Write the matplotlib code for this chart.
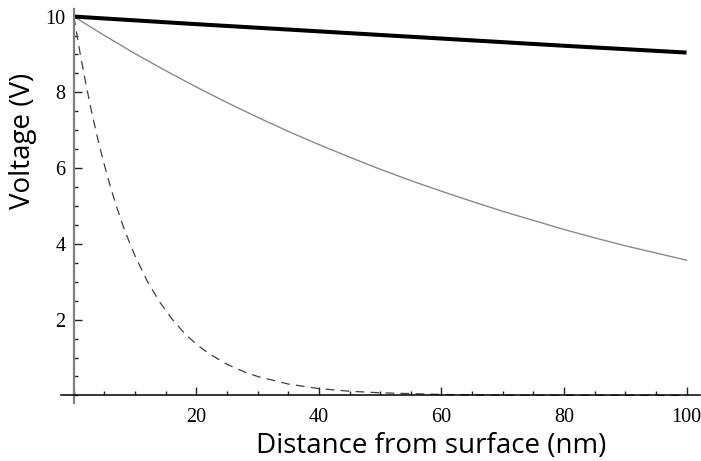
import matplotlib
matplotlib.use("Agg")
import matplotlib.pyplot as plt
from matplotlib.ticker import MultipleLocator, FixedLocator

# Thick black curve (long decay length)
x_thick = [0, 20, 40, 60, 80, 100]
v_thick = [10.0, 9.80, 9.61, 9.42, 9.23, 9.05]

# Thin grey curve
x_grey = [0, 5, 10, 15, 20, 25, 30, 35, 40, 45, 50, 55, 60, 65, 70, 75, 80, 85, 90, 95, 100]
v_grey = [10.0, 9.50, 9.02, 8.57, 8.14, 7.73, 7.34, 6.97, 6.62, 6.29, 5.97, 5.67,
          5.39, 5.12, 4.86, 4.62, 4.38, 4.16, 3.95, 3.76, 3.57]

# Dashed curve (short decay length)
x_dash = [0, 1, 2, 3, 4, 5, 6, 7, 8, 9, 10, 12, 14, 16, 18, 20, 22, 25, 28, 30, 35,
          40, 45, 50, 60, 70, 80, 90, 100]
v_dash = [10.0, 9.05, 8.19, 7.41, 6.70, 6.07, 5.49, 4.97, 4.49, 4.07, 3.68, 3.01,
          2.47, 2.02, 1.65, 1.35, 1.11, 0.82, 0.61, 0.50, 0.30, 0.18, 0.11, 0.07,
          0.025, 0.009, 0.003, 0.001, 0.0005]

x_major = [20, 40, 60, 80, 100]
y_major = [2, 4, 6, 8, 10]

fig = plt.figure(figsize=(7.01, 4.61), dpi=100)
ax = fig.add_axes([61/701, 1 - 403/461, 639/701, (403 - 9)/461])

ax.plot(x_dash, v_dash, color="#404040", lw=0.9, linestyle=(0, (7, 5)))
ax.plot(x_grey, v_grey, color="#8a8a8a", lw=1.0)
ax.plot(x_thick, v_thick, color="black", lw=2.9, solid_capstyle="butt")

ax.set_xlim(-2.1, 102.2)
ax.set_ylim(-0.2, 10.2)

for s in ["top", "right"]:
    ax.spines[s].set_visible(False)
ax.spines["bottom"].set_position(("data", 0))
ax.spines["left"].set_position(("data", 0))
ax.spines["bottom"].set_color("black")
ax.spines["bottom"].set_linewidth(1.1)
ax.spines["left"].set_color("#808080")
ax.spines["left"].set_linewidth(1.6)

ax.xaxis.set_major_locator(FixedLocator(x_major))
ax.yaxis.set_major_locator(FixedLocator(y_major))
ax.xaxis.set_minor_locator(MultipleLocator(5))
ax.yaxis.set_minor_locator(MultipleLocator(0.5))

ax.tick_params(which="both", direction="in", color="#222222", width=1.0)
ax.tick_params(which="major", length=6)
ax.tick_params(axis="x", which="major", pad=9)
ax.tick_params(axis="y", which="major", pad=6)
ax.tick_params(which="minor", length=3)
for lab in ax.get_xticklabels() + ax.get_yticklabels():
    lab.set_family("Liberation Serif")
    lab.set_fontsize(14.5)

fig.text(431/701, 1 - 446/461, "Distance from surface (nm)", ha="center", va="center",
         family="Open Sans", fontsize=20)
fig.text(23/701, 1 - 141/461, "Voltage (V)", ha="center", va="center", rotation=90,
         family="Open Sans", fontsize=20)

fig.savefig("out.png", dpi=100)
